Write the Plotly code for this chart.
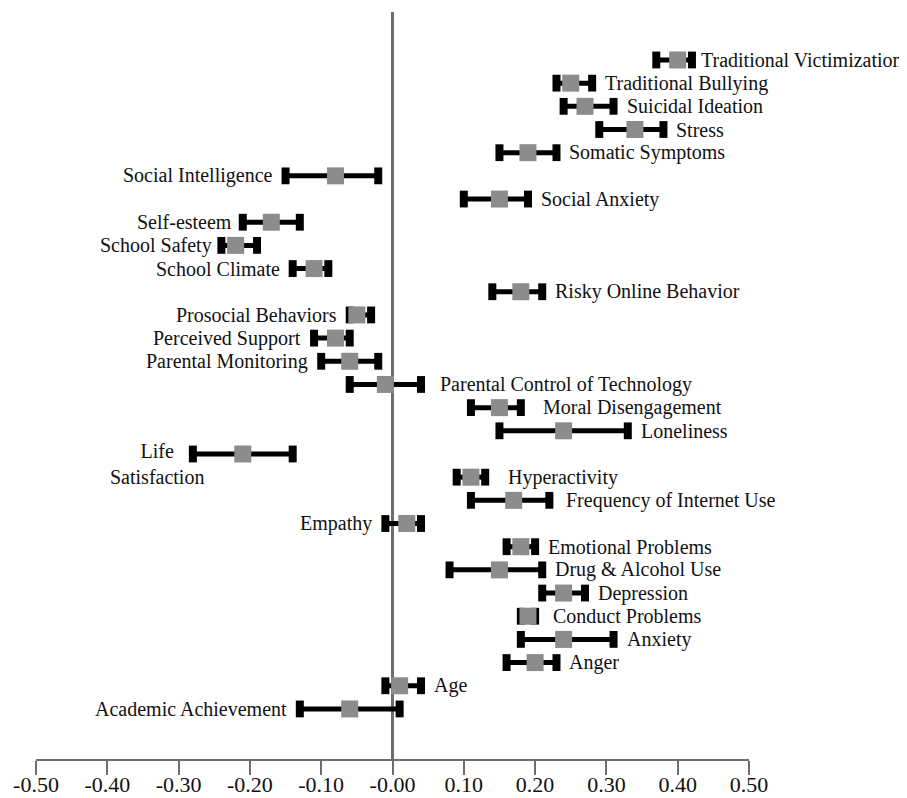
import plotly.graph_objects as go

labels = ["Traditional Victimization", "Traditional Bullying", "Suicidal Ideation", "Stress",
          "Somatic Symptoms", "Social Intelligence", "Social Anxiety", "Self-esteem",
          "School Safety", "School Climate", "Risky Online Behavior", "Prosocial Behaviors",
          "Perceived Support", "Parental Monitoring", "Parental Control of Technology",
          "Moral Disengagement", "Loneliness", "Life<br>Satisfaction", "Hyperactivity",
          "Frequency of Internet Use", "Empathy", "Emotional Problems", "Drug & Alcohol Use",
          "Depression", "Conduct Problems", "Anxiety", "Anger", "Age", "Academic Achievement"]
estimate = [0.40, 0.25, 0.27, 0.34, 0.19, -0.08, 0.15, -0.17, -0.22, -0.11, 0.18, -0.05,
            -0.08, -0.06, -0.01, 0.15, 0.24, -0.21, 0.11, 0.17, 0.02, 0.18, 0.15, 0.24,
            0.19, 0.24, 0.20, 0.01, -0.06]
lower = [0.37, 0.23, 0.24, 0.29, 0.15, -0.15, 0.10, -0.21, -0.24, -0.14, 0.14, -0.06,
         -0.11, -0.10, -0.06, 0.11, 0.15, -0.28, 0.09, 0.11, -0.01, 0.16, 0.08, 0.21,
         0.18, 0.18, 0.16, -0.01, -0.13]
upper = [0.42, 0.28, 0.31, 0.38, 0.23, -0.02, 0.19, -0.13, -0.19, -0.09, 0.21, -0.03,
         -0.06, -0.02, 0.04, 0.18, 0.33, -0.14, 0.13, 0.22, 0.04, 0.20, 0.21, 0.27,
         0.20, 0.31, 0.23, 0.04, 0.01]
label_side = ["r", "r", "r", "r", "r", "l", "r", "l", "l", "l", "r", "l", "l", "l", "r",
              "r", "r", "l", "r", "r", "l", "r", "r", "r", "r", "r", "r", "r", "l"]
tick_vals = [-0.5, -0.4, -0.3, -0.2, -0.1, 0.0, 0.1, 0.2, 0.3, 0.4, 0.5]
tick_text = ["-0.50", "-0.40", "-0.30", "-0.20", "-0.10", "-0.00", "0.10", "0.20", "0.30",
             "0.40", "0.50"]

rows = list(range(len(labels)))
FONT = "Liberation Serif, Times New Roman, serif"
LABEL_SIZE = 20

# label gap overrides (pixels)
gap_override = {"Traditional Victimization": 7,
                "Parental Control of Technology": 17, "Moral Disengagement": 20,
                "Hyperactivity": 21, "Frequency of Internet Use": 15,
                "Conduct Problems": 16, "Self-esteem": 9, "School Safety": 7}

fig = go.Figure()

# whiskers
for i in rows:
    fig.add_trace(go.Scatter(x=[lower[i], upper[i]], y=[i, i], mode="lines",
                             line=dict(color="black", width=5), hoverinfo="skip",
                             showlegend=False, cliponaxis=False))
# caps
fig.add_trace(go.Scatter(x=lower + upper, y=rows + rows, mode="markers",
                         marker=dict(symbol="line-ns", size=12,
                                     line=dict(color="black", width=8)),
                         showlegend=False, hoverinfo="skip", cliponaxis=False))
# estimates
fig.add_trace(go.Scatter(x=estimate, y=rows, mode="markers",
                         marker=dict(symbol="square", size=17, color="#8c8c8c",
                                     line=dict(width=0)),
                         showlegend=False, cliponaxis=False))

annotations = []
for i in rows:
    name = labels[i]
    plain = name.replace("<br>", " ")
    gap = gap_override.get(plain, 11)
    font = dict(family=FONT, size=LABEL_SIZE, color="#111")
    if label_side[i] == "r":
        annotations.append(dict(x=upper[i], y=i, xref="x", yref="y", text=name,
                                showarrow=False, xanchor="left", xshift=gap, font=font))
    elif "<br>" in name:
        annotations.append(dict(x=lower[i], y=i, xref="x", yref="y", text=name,
                                showarrow=False, xanchor="right", xshift=13,
                                yanchor="middle", yshift=-10, align="center", font=font))
    else:
        annotations.append(dict(x=lower[i], y=i, xref="x", yref="y", text=name,
                                showarrow=False, xanchor="right", xshift=-gap, font=font))

# page body has an 8px margin; figure sized to fit the 907x798 window
fig.update_layout(
    width=899, height=790,
    margin=dict(l=28, r=158, t=4, b=39, autoexpand=False),
    plot_bgcolor="white", paper_bgcolor="white",
    annotations=annotations,
    xaxis=dict(range=[-0.5, 0.5], tickvals=tick_vals, ticktext=tick_text,
               automargin=False,
               showgrid=False, zeroline=True, zerolinecolor="#6e6e6e", zerolinewidth=3,
               showline=True, linecolor="#6e6e6e", linewidth=2,
               ticks="outside", ticklen=14, tickwidth=2, tickcolor="#6e6e6e",
               ticklabelstandoff=-9,
               tickfont=dict(family=FONT, size=22, color="#111")),
    yaxis=dict(range=[30.16, -2.07], visible=False, showgrid=False, zeroline=False),
)

fig.write_html("out.html")
